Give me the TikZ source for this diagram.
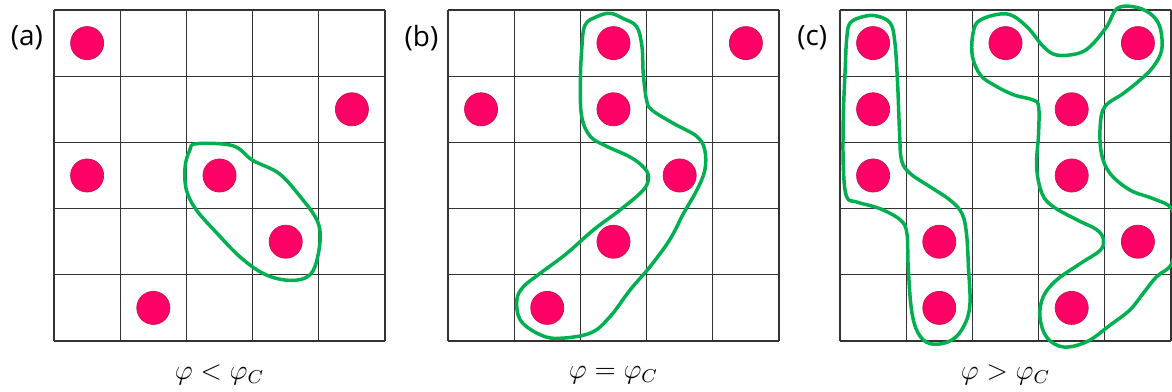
\documentclass[tikz,border=0pt]{standalone}
\usepackage{fontspec}
\setsansfont{Open Sans}
\usetikzlibrary{positioning}

\definecolor{dotred}{RGB}{255,0,102}
\definecolor{dotedge}{RGB}{200,20,70}
\definecolor{loopgreen}{RGB}{0,176,80}

\begin{document}
\begin{tikzpicture}[
  gridline/.style={black!80, line width=0.5pt},
  site/.style={circle, fill=dotred, draw=dotedge, line width=0.3pt, minimum size=0.5cm, inner sep=0pt},
  cluster/.style={loopgreen, line width=1.5pt, line join=round},
  panel/.style={font=\sffamily\fontsize{12}{14}\selectfont},
  phase/.style={font=\fontsize{12}{14}\selectfont}
]
  \useasboundingbox (0,0) rectangle (17.704,-5.921);

  % Panel (a): below threshold
  \begin{scope}[shift={(0.816,-0.151)}]
    \draw[gridline] (0,0) grid (5,-5);
    \node[panel] (labA) at (-0.41,-0.42) {(a)};
    \node[site] (a1) at (0.5,-0.5) {};
    \node[site] (a2) at (4.5,-1.5) {};
    \node[site] (a3) at (0.5,-2.5) {};
    \node[site] (a4) at (2.5,-2.5) {};
    \node[site] (a5) at (3.5,-3.5) {};
    \node[site] (a6) at (1.5,-4.5) {};
    % cluster of two
    \draw[cluster] plot[smooth cycle, tension=0.6] coordinates {
      (2.15,-2.02) (2.7,-2.05) (3.0,-2.27) (3.4,-2.47) (3.72,-2.82) (3.97,-3.17)
      (4.02,-3.47) (3.94,-3.88) (3.79,-4.05) (3.5,-4.08) (3.16,-3.98) (2.81,-3.73)
      (2.46,-3.37) (2.15,-3.02) (2.0,-2.72) (1.98,-2.37) (2.05,-2.12)};
    \node[phase] (phA) at (2.5,-5.514) {$\varphi < \varphi_C$};
  \end{scope}

  % Panel (b): at threshold
  \begin{scope}[shift={(6.767,-0.151)}]
    \draw[gridline] (0,0) grid (5,-5);
    \node[panel] (labB) at (-0.40,-0.42) {(b)};
    \node[site] (b1) at (2.5,-0.5) {};
    \node[site] (b2) at (4.5,-0.5) {};
    \node[site] (b3) at (0.5,-1.5) {};
    \node[site] (b4) at (2.5,-1.5) {};
    \node[site] (b5) at (3.5,-2.5) {};
    \node[site] (b6) at (2.5,-3.5) {};
    \node[site] (b7) at (1.5,-4.5) {};
    % spanning cluster
    \draw[cluster] plot[smooth cycle, tension=0.6] coordinates {
      (2.45,-0.05) (2.65,-0.13) (2.85,-0.25) (2.93,-0.55) (2.95,-0.96) (3.0,-1.36)
      (3.08,-1.51) (3.4,-1.71) (3.76,-1.91) (3.88,-2.12) (3.88,-2.42) (3.76,-2.72)
      (3.56,-3.07) (3.35,-3.47) (3.05,-3.88) (2.75,-4.23) (2.45,-4.63) (2.15,-4.88)
      (1.64,-4.96) (1.34,-4.88) (1.09,-4.68) (1.04,-4.38) (1.14,-4.18) (1.39,-3.98)
      (1.79,-3.68) (2.2,-3.32) (2.6,-3.02) (2.95,-2.72) (3.03,-2.52) (2.95,-2.37)
      (2.75,-2.22) (2.4,-2.06) (2.15,-1.91) (2.02,-1.61) (2.0,-1.11) (2.02,-0.6)
      (2.07,-0.23) (2.25,-0.1)};
    \node[phase] (phB) at (2.5,-5.514) {$\varphi = \varphi_C$};
  \end{scope}

  % Panel (c): above threshold
  \begin{scope}[shift={(12.689,-0.151)}]
    \draw[gridline] (0,0) grid (5,-5);
    \node[panel] (labC) at (-0.42,-0.42) {(c)};
    \node[site] (c1) at (0.5,-0.5) {};
    \node[site] (c2) at (2.5,-0.5) {};
    \node[site] (c3) at (4.5,-0.5) {};
    \node[site] (c4) at (0.5,-1.5) {};
    \node[site] (c5) at (3.5,-1.5) {};
    \node[site] (c6) at (0.5,-2.5) {};
    \node[site] (c7) at (3.5,-2.5) {};
    \node[site] (c8) at (1.5,-3.5) {};
    \node[site] (c9) at (4.5,-3.5) {};
    \node[site] (c10) at (1.5,-4.5) {};
    \node[site] (c11) at (3.5,-4.5) {};
    % left cluster
    \draw[cluster] plot[smooth cycle, tension=0.6] coordinates {
      (0.15,-0.2) (0.35,-0.1) (0.55,-0.09) (0.76,-0.2) (0.83,-0.5) (0.87,-1.11)
      (0.9,-1.86) (0.93,-2.27) (1.06,-2.47) (1.36,-2.67) (1.66,-2.87) (1.84,-3.07)
      (1.91,-3.37) (1.94,-3.88) (1.96,-4.48) (1.84,-4.83) (1.64,-5.01) (1.36,-5.04)
      (1.18,-4.88) (1.08,-4.53) (1.03,-3.88) (1.01,-3.37) (0.91,-3.17) (0.6,-3.0)
      (0.25,-2.9) (0.1,-2.82) (0.05,-2.37) (0.05,-1.61) (0.08,-0.86) (0.1,-0.45)};
    % right cluster
    \draw[cluster] plot[smooth cycle, tension=0.6] coordinates {
      (2.12,-0.15) (2.52,-0.06) (2.82,-0.25) (3.07,-0.55) (3.27,-0.68) (3.58,-0.66)
      (3.78,-0.55) (4.03,-0.25) (4.18,0.02) (4.43,0.05) (4.68,-0.05) (4.83,-0.25)
      (4.86,-0.6) (4.73,-0.86) (4.53,-1.06) (4.28,-1.26) (4.0,-1.46) (3.93,-1.76)
      (3.95,-2.17) (4.08,-2.47) (4.38,-2.72) (4.73,-2.85) (5.01,-3.0) (5.09,-3.37)
      (5.01,-3.83) (4.78,-4.03) (4.58,-4.28) (4.38,-4.53) (4.08,-4.76) (3.73,-5.01)
      (3.37,-5.09) (3.12,-4.94) (3.02,-4.63) (3.07,-4.33) (3.27,-4.08) (3.63,-3.83)
      (3.93,-3.63) (3.98,-3.47) (3.88,-3.32) (3.58,-3.17) (3.22,-2.97) (3.05,-2.77)
      (2.97,-2.37) (3.0,-1.86) (3.0,-1.46) (2.92,-1.36) (2.62,-1.28) (2.32,-1.13)
      (2.12,-0.98) (2.0,-0.7) (2.01,-0.35)};
    \node[phase] (phC) at (2.5,-5.514) {$\varphi > \varphi_C$};
  \end{scope}
\end{tikzpicture}
\end{document}
